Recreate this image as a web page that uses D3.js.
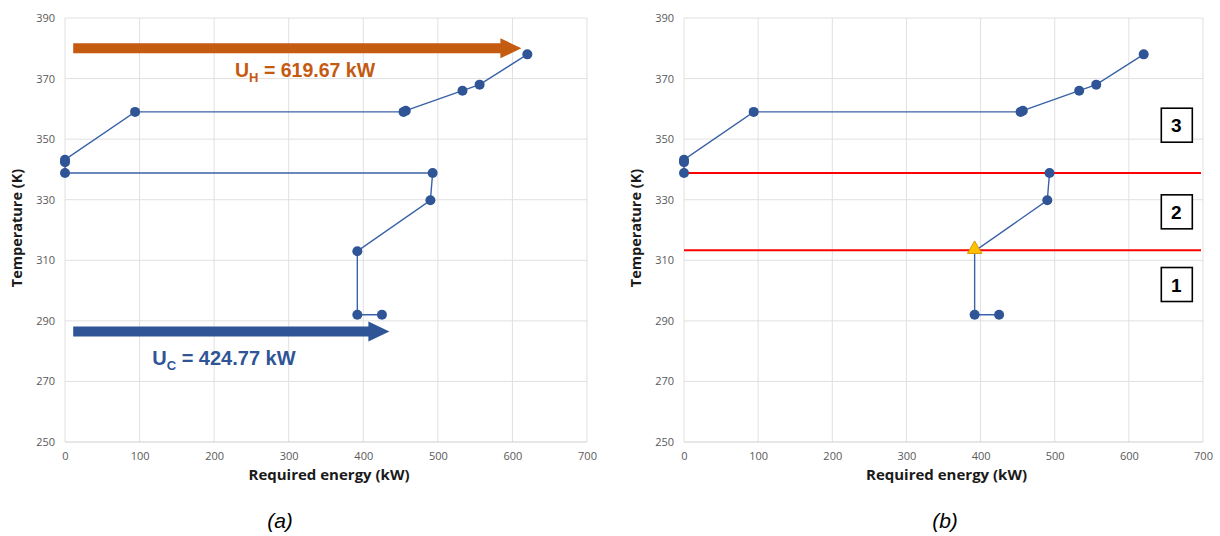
<!DOCTYPE html>
<html>
<head>
<meta charset="utf-8">
<script src="https://cdn.jsdelivr.net/npm/d3@7"></script>
<style>
  body { margin: 0; background: #ffffff; }
  svg text { font-family: "Liberation Sans", Arial, sans-serif; }
</style>
</head>
<body>
<div id="chart"></div>
<script>
// composite curve (kW, K)
const energyKW = [620, 556, 533, 457, 454, 94, 0, 0, 0, 493, 490, 392, 392, 425];
const temperatureK = [378, 368, 366, 359.4, 359, 359, 343.2, 342.4, 338.8, 338.8, 329.8, 313, 292, 292];

const xTicks = [0, 100, 200, 300, 400, 500, 600, 700];
const yTicks = [250, 270, 290, 310, 330, 350, 370, 390];

// utilities (panel a)
const utilityLabels = ["H", "C"];
const utilityValues = ["619.67", "424.77"];
const utilityStart = [11, 11];
const utilityEnd = [612, 435];
const utilityTemp = [380, 286.5];
const utilityColors = ["#c55a11", "#2f5597"];

// pinch and temperature intervals (panel b)
const pinchPoint = [392, 313.3];
const intervalLines = [338.8, 313.3];
const intervalNames = ["3", "2", "1"];
const intervalTemps = [354.6, 326, 302];

const width = 1220, height = 536;
const svg = d3.select("#chart").append("svg")
    .attr("width", width)
    .attr("height", height);

const panels = [
    { name: "(a)", left: 65, right: 587, top: 18, bottom: 442 },
    { name: "(b)", left: 684, right: 1203, top: 18, bottom: 442 }
];

const curve = energyKW.map((e, i) => [e, temperatureK[i]]);

panels.forEach((p, idx) => {
    let x = d3.scaleLinear().domain([0, 700]).range([p.left, p.right]);
    let y = d3.scaleLinear().domain([250, 390]).range([p.bottom, p.top]);
    let g = svg.append("g");

    // gridlines
    g.append("g")
        .selectAll("line.vgrid")
        .data(xTicks)
        .join("line")
        .attr("x1", d => x(d)).attr("x2", d => x(d))
        .attr("y1", p.top).attr("y2", p.bottom)
        .attr("stroke", "#e0e0e0").attr("stroke-width", 1);

    g.append("g")
        .selectAll("line.hgrid")
        .data(yTicks)
        .join("line")
        .attr("x1", p.left).attr("x2", p.right)
        .attr("y1", d => y(d)).attr("y2", d => y(d))
        .attr("stroke", d => d === 250 ? "#cfcfcf" : "#e0e0e0").attr("stroke-width", 1);

    // axes with the library, then strip the lines
    let xAxis = g.append("g")
        .attr("transform", `translate(0,${p.bottom})`)
        .call(d3.axisBottom(x).tickValues(xTicks).tickSize(0).tickPadding(10));
    let yAxis = g.append("g")
        .attr("transform", `translate(${p.left},0)`)
        .call(d3.axisLeft(y).tickValues(yTicks).tickSize(0).tickPadding(10));
    [xAxis, yAxis].forEach(a => {
        a.select(".domain").remove();
        a.selectAll("text")
            .attr("fill", "#595959")
            .style("font-size", "11px")
            .style("font-family", "'Open Sans', sans-serif");
    });

    g.append("text")
        .attr("x", (p.left + p.right) / 2 + 3)
        .attr("y", 480)
        .attr("text-anchor", "middle")
        .style("font-size", "15px")
        .style("font-weight", "bold")
        .style("font-family", "'Open Sans', sans-serif")
        .attr("fill", "#1a1a1a")
        .text("Required energy (kW)");

    g.append("text")
        .attr("transform", `translate(${p.left - 43},${(p.top + p.bottom) / 2 - 2}) rotate(-90)`)
        .attr("text-anchor", "middle")
        .style("font-size", "14.5px")
        .style("font-weight", "bold")
        .style("font-family", "'Open Sans', sans-serif")
        .attr("fill", "#1a1a1a")
        .text("Temperature (K)");

    // panel caption
    g.append("text")
        .attr("x", idx === 0 ? 280 : 945)
        .attr("y", 528)
        .attr("text-anchor", "middle")
        .style("font-size", "21px")
        .style("font-style", "italic")
        .attr("fill", "#000")
        .text(p.name);

    // curve
    let line = d3.line().x(d => x(d[0])).y(d => y(d[1]));
    g.append("path")
        .datum(curve)
        .attr("d", line)
        .attr("fill", "none")
        .attr("stroke", "#3a62a7")
        .attr("stroke-width", 1.4);

    if (idx === 1) {
        // interval boundaries sit over the curve
        g.selectAll("line.interval")
            .data(intervalLines)
            .join("line")
            .attr("x1", p.left).attr("x2", p.right - 2)
            .attr("y1", d => y(d)).attr("y2", d => y(d))
            .attr("stroke", "#ff0000").attr("stroke-width", 2);
    }

    g.selectAll("circle.pt")
        .data(curve.filter(d => !(idx === 1 && d[0] === pinchPoint[0] && d[1] === 313)))
        .join("circle")
        .attr("cx", d => x(d[0]))
        .attr("cy", d => y(d[1]))
        .attr("r", 5)
        .attr("fill", "#2f5597");

    if (idx === 0) {
        utilityLabels.forEach((lab, i) => {
            let x0 = x(utilityStart[i]), x1 = x(utilityEnd[i]);
            let yc = y(utilityTemp[i]);
            let shaft = 5, head = 10, headLen = 21;
            g.append("path")
                .attr("d", `M${x0},${yc - shaft} L${x1 - headLen},${yc - shaft} L${x1 - headLen},${yc - head}
                    L${x1},${yc} L${x1 - headLen},${yc + head} L${x1 - headLen},${yc + shaft} L${x0},${yc + shaft} Z`)
                .attr("fill", utilityColors[i]);
        });

        // utility labels
        let labelPos = [[228, 370.4], [117, 275.4]];
        let labelSize = [19.5, 20];
        utilityLabels.forEach((lab, i) => {
            let t = g.append("text")
                .attr("x", x(labelPos[i][0]))
                .attr("y", y(labelPos[i][1]))
                .attr("fill", utilityColors[i])
                .style("font-size", labelSize[i] + "px")
                .style("font-weight", "bold");
            t.append("tspan").text("U");
            t.append("tspan").attr("dy", 5).style("font-size", "13px").text(lab);
            t.append("tspan").attr("dy", -5).text(` = ${utilityValues[i]} kW`);
        });
    } else {
        // pinch marker
        let tri = d3.symbol().type(d3.symbolTriangle).size(90);
        g.append("path")
            .attr("d", tri())
            .attr("transform", `translate(${x(pinchPoint[0])},${y(pinchPoint[1]) - 1})`)
            .attr("fill", "#ffc000")
            .attr("stroke", "#d69a00")
            .attr("stroke-width", 1);

        // interval boxes
        let boxes = g.selectAll("g.box")
            .data(intervalNames)
            .join("g")
            .attr("transform", (d, i) => `translate(${x(664)},${y(intervalTemps[i])})`);
        boxes.append("rect")
            .attr("x", -15).attr("y", -17)
            .attr("width", 31).attr("height", 34)
            .attr("fill", "#fff")
            .attr("stroke", "#000")
            .attr("stroke-width", 1.6);
        boxes.append("text")
            .attr("text-anchor", "middle")
            .attr("y", 7)
            .style("font-size", "19px")
            .style("font-weight", "bold")
            .text(d => d);
    }
});
</script>
</body>
</html>
